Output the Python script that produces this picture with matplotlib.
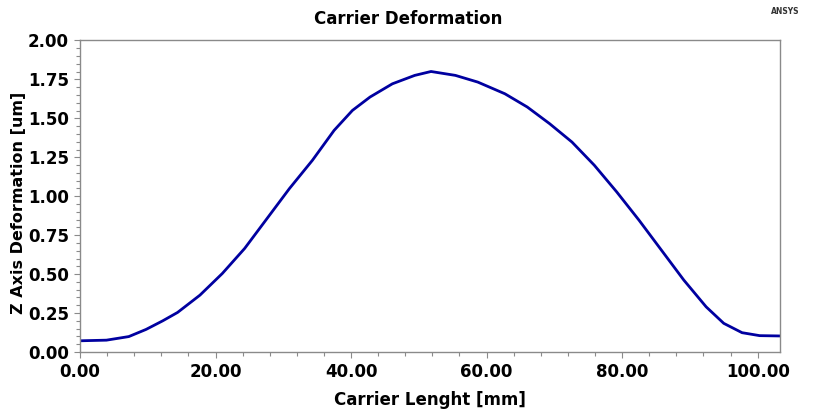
import matplotlib
matplotlib.use("Agg")
import matplotlib.pyplot as plt
from matplotlib.ticker import MultipleLocator, FormatStrFormatter

# Data
length_mm = [0.0, 3.9, 7.2, 9.75, 12.2, 14.4, 17.7, 21.0, 24.3, 27.6, 30.9,
             34.3, 37.5, 40.2, 42.8, 46.1, 49.4, 51.8, 55.4, 58.7, 62.7,
             66.0, 69.3, 72.6, 75.9, 79.2, 82.5, 85.8, 89.1, 92.4, 95.0,
             97.7, 100.3, 103.3]
deform_um = [0.072, 0.076, 0.099, 0.145, 0.20, 0.254, 0.365, 0.504, 0.665, 0.857, 1.049,
             1.231, 1.423, 1.551, 1.637, 1.722, 1.776, 1.801, 1.776, 1.733, 1.658,
             1.573, 1.466, 1.348, 1.199, 1.028, 0.846, 0.654, 0.462, 0.29, 0.184,
             0.124, 0.105, 0.103]

title = "Carrier Deformation"
xlabel = "Carrier Lenght [mm]"
ylabel = "Z Axis Deformation [um]"

plt.rcParams['font.family'] = ['DejaVu Sans']

fig = plt.figure(figsize=(8.13, 4.12), dpi=100)
ax = fig.add_axes([80/813, 1-352/412, 700/813, (352-40.5)/412])

ax.plot(length_mm, deform_um, color='#0000A0', lw=2.0,
        solid_capstyle='butt', solid_joinstyle='round')

ax.set_xlim(0, 103.3)
ax.set_ylim(0, 2.0)
ax.xaxis.set_major_locator(MultipleLocator(20))
ax.xaxis.set_minor_locator(MultipleLocator(4))
ax.yaxis.set_major_locator(MultipleLocator(0.25))
ax.yaxis.set_minor_locator(MultipleLocator(0.05))
ax.xaxis.set_major_formatter(FormatStrFormatter('%.2f'))
ax.yaxis.set_major_formatter(FormatStrFormatter('%.2f'))

for s in ax.spines.values():
    s.set_color('#8a8a8a')
    s.set_linewidth(1.0)
ax.tick_params(which='both', direction='out', color='#8a8a8a', width=0.8)
ax.tick_params(which='major', length=4, pad=4, labelsize=12)
ax.tick_params(which='minor', length=3)
for lab in ax.get_xticklabels() + ax.get_yticklabels():
    lab.set_fontweight('bold')

ax.set_xlabel(xlabel, fontsize=12, fontweight='bold')
ax.set_ylabel(ylabel, fontsize=11.5, fontweight='bold')
ax.xaxis.set_label_coords(0.5, (352-400)/311.5)
ax.yaxis.set_label_coords((18-80)/700, 0.48)
ax.xaxis.label.set_va('center')
ax.yaxis.label.set_va('center')
fig.text(408/813, 1-19/412, title, ha='center', va='center', fontsize=12, fontweight='bold')
fig.text(785/813, 1-12/412, "ANSYS", ha='center', va='center', fontsize=5.5, fontweight='bold', color='#333333')

fig.savefig("out.png", dpi=100)
